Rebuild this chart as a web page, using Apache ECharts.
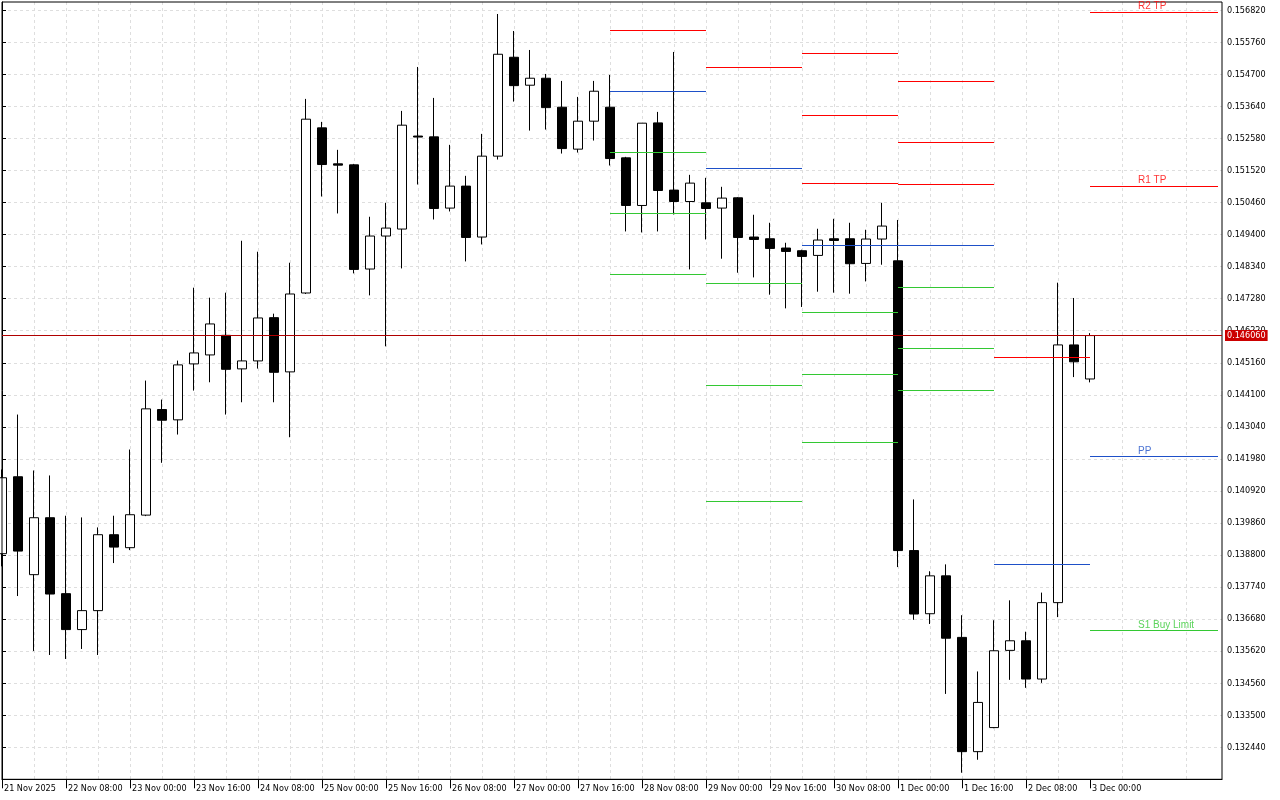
<!DOCTYPE html>
<html>
<head>
<meta charset="utf-8">
<script src="https://cdn.jsdelivr.net/npm/echarts@6/dist/echarts.min.js"></script>
<style>
html,body{margin:0;padding:0;background:#ffffff;}
#chart{width:1280px;height:800px;}
</style>
</head>
<body>
<div id="chart"></div>
<script>
// ---- Data (4H candles, index 0 = 21 Nov 2025 16:00) ----
const xTickLabels = ['21 Nov 2025','22 Nov 08:00','23 Nov 00:00','23 Nov 16:00','24 Nov 08:00','25 Nov 00:00','25 Nov 16:00','26 Nov 08:00','27 Nov 00:00','27 Nov 16:00','28 Nov 08:00','29 Nov 00:00','29 Nov 16:00','30 Nov 08:00','1 Dec 00:00','1 Dec 16:00','2 Dec 08:00','3 Dec 00:00'];

const opens = [0.138844,0.141389,0.138150,0.140034,0.137522,0.136333,0.136960,0.139472,0.139043,0.140120,
0.143613,0.143272,0.145123,0.145420,0.146068,0.144958,0.145222,0.146653,0.144859,0.147469,
0.152932,0.151742,0.151709,0.148262,0.149353,0.149584,0.152661,0.152634,0.150278,0.151005,
0.149320,0.151996,0.155268,0.154343,0.154574,0.153616,0.152228,0.153153,0.153616,0.151940,
0.150364,0.153097,0.150873,0.150496,0.150453,0.150278,0.150618,0.149320,0.149263,0.148956,
0.148867,0.148712,0.149263,0.149263,0.148447,0.149254,0.148533,0.138947,0.136858,0.138111,
0.136075,0.132295,0.133091,0.135645,0.135963,0.134697,0.137225,0.145751,0.144624];

const highs = [0.141630,0.143447,0.141597,0.141432,0.140100,0.140044,0.139713,0.140100,0.142291,0.144571,
0.143943,0.145232,0.147644,0.147314,0.147479,0.149197,0.148834,0.146785,0.148470,0.153890,
0.153130,0.152205,0.151740,0.149991,0.150453,0.153493,0.154947,0.153923,0.152370,0.151345,
0.152733,0.156699,0.156137,0.155509,0.154716,0.154485,0.153956,0.154485,0.154683,0.151973,
0.153087,0.153460,0.155443,0.151378,0.151279,0.150982,0.150640,0.150057,0.149792,0.149131,
0.148900,0.149594,0.149924,0.149792,0.149561,0.150453,0.149885,0.140639,0.138263,0.138491,
0.136809,0.134948,0.136643,0.137301,0.136263,0.137556,0.147810,0.147304,0.146141];

const lows = [0.138425,0.137443,0.135626,0.135493,0.135361,0.135692,0.135493,0.138534,0.138963,0.140087,
0.141851,0.142786,0.144240,0.144515,0.143447,0.143854,0.144968,0.143854,0.142697,0.147436,
0.150661,0.150100,0.148117,0.147390,0.145704,0.148282,0.151058,0.149901,0.150166,0.148513,
0.149075,0.151884,0.153801,0.152842,0.152875,0.152082,0.152115,0.152512,0.151686,0.149505,
0.149472,0.149505,0.150067,0.148249,0.149240,0.148603,0.148140,0.147985,0.147413,0.146960,
0.147007,0.147512,0.147479,0.147446,0.147852,0.148404,0.138401,0.136657,0.136518,0.134205,
0.131597,0.132027,0.133070,0.134670,0.134406,0.134571,0.136746,0.144687,0.144512];

const closes = [0.141356,0.138930,0.140034,0.137509,0.136333,0.136960,0.139472,0.139062,0.140133,0.143636,
0.143259,0.145090,0.145486,0.146445,0.144944,0.145222,0.146643,0.144845,0.147436,0.153219,
0.151719,0.151699,0.148249,0.149353,0.149617,0.153021,0.152628,0.150265,0.151005,0.149306,
0.151996,0.155367,0.154329,0.154574,0.153602,0.152247,0.153153,0.154144,0.151917,0.150364,
0.153087,0.150860,0.150496,0.151104,0.150265,0.150608,0.149306,0.149240,0.148943,0.148844,
0.148679,0.149220,0.149207,0.148437,0.149254,0.149683,0.138947,0.136848,0.138111,0.136048,
0.132295,0.133923,0.135632,0.135963,0.134697,0.137225,0.145751,0.145192,0.146060];

// Daily pivot levels (day start / end candle index)
const dayStart = [38, 44, 50, 56, 62, 68];
const dayEnd   = [44, 50, 56, 62, 68, 76];
const resistanceLevels = [
  [0.156160],
  [0.154937],
  [0.155400, 0.153351, 0.151104],
  [0.154475, 0.152459, 0.151071],
  [0.145321],
  [0.156755, 0.151005]
];
const pivotLevels = [0.154144, 0.151600, 0.149055, 0.149055, 0.138481, 0.142050];
const supportLevels = [
  [0.152129, 0.150113, 0.148097],
  [0.147767, 0.144396, 0.140563],
  [0.146808, 0.144759, 0.142512],
  [0.147667, 0.145619, 0.144231],
  [],
  [0.136290]
];
const levelLabelText  = ['R2 TP', 'R1 TP', 'PP', 'S1 Buy Limit'];
const levelLabelValue = [0.156755, 0.151005, 0.142050, 0.136290];
const levelLabelKind  = ['r', 'r', 'p', 's'];
const levelLabelIndex = 71;

// Axis ranges
const xMin = 0, xMax = 76.25, xStep = 4;
const yMin = 0.131380, yMax = 0.157096, yStep = 0.00106;

// ---- Styles ----
const kindColor = {r: '#ff0000', p: '#1e50c8', s: '#33c833', price: '#b00000'};
const axisFont = "'DejaVu Sans Condensed', 'DejaVu Sans', sans-serif";
const gridDash = {color: '#dedede', type: [3, 3], width: 1};

const candleData = opens.map((o, i) => [i, o, closes[i], lows[i], highs[i]]);
const lastClose = closes[closes.length - 1];

const tickIdx = xTickLabels.map((_, k) => k * 4);

// segments: [x0, x1, value, kind]
const segData = [];
dayStart.forEach((s, d) => {
  const e = dayEnd[d];
  resistanceLevels[d].forEach(v => segData.push([s, e, v, 'r']));
  segData.push([s, e, pivotLevels[d], 'p']);
  supportLevels[d].forEach(v => segData.push([s, e, v, 's']));
});
segData.push([xMin, xMax, lastClose, 'price']);

const series = [{
  type: 'candlestick',
  data: candleData,
  encode: {x: 0, y: [1, 2, 3, 4]},
  barWidth: 10,
  animation: false,
  silent: true,
  itemStyle: {color: '#ffffff', color0: '#000000', borderColor: '#000000', borderColor0: '#000000', borderWidth: 1}
}, {
  type: 'custom',
  silent: true, animation: false, z: 4,
  data: segData,
  encode: {x: [0, 1], y: 2},
  renderItem: function (params, api) {
    const item = segData[params.dataIndex];
    const p0 = api.coord([item[0], item[2]]);
    const p1 = api.coord([item[1], item[2]]);
    const y = Math.round(p0[1] - 0.5) + 0.5;
    const line = {
      type: 'line',
      shape: {x1: Math.round(p0[0]), y1: y, x2: Math.round(p1[0]), y2: y},
      style: {stroke: kindColor[item[3]], lineWidth: 1}
    };
    if (item[3] !== 'price') return line;
    return {
      type: 'group',
      children: [line, {
        type: 'text',
        x: Math.round(p1[0]) + 3, y: y,
        style: {
          text: item[2].toFixed(6), fill: '#ffffff', backgroundColor: '#cc0000',
          padding: [1, 2, 1, 2], fontSize: 9, fontFamily: axisFont,
          align: 'left', verticalAlign: 'middle'
        }
      }]
    };
  }
}, {
  type: 'scatter', symbolSize: 0, silent: true, animation: false, z: 5,
  data: levelLabelText.map((t, i) => ({
    value: [levelLabelIndex, levelLabelValue[i]],
    label: {
      show: true, formatter: t, color: kindColor[levelLabelKind[i]],
      position: [0, 0], align: 'left', verticalAlign: 'bottom', offset: [0, -1],
      fontSize: 10, fontFamily: "'Liberation Sans', Arial, sans-serif"
    }
  }))
}];

const chart = echarts.init(document.getElementById('chart'), null, {renderer: 'canvas'});
chart.setOption({
  backgroundColor: '#ffffff',
  animation: false,
  grid: {left: 2, right: 58, top: 2, bottom: 20.7, show: true, borderColor: '#000000', borderWidth: 1, backgroundColor: 'transparent', z: 3},
  xAxis: {
    type: 'value', min: xMin, max: xMax, interval: xStep,
    axisLine: {show: true, onZero: false, lineStyle: {color: '#000000', width: 1}},
    axisTick: {show: true, length: 9, customValues: tickIdx, lineStyle: {color: '#000000'}},
    minorTick: {show: false, splitNumber: 2},
    splitLine: {show: true, showMinLine: false, showMaxLine: false, lineStyle: gridDash},
    minorSplitLine: {show: true, lineStyle: gridDash},
    axisLabel: {
      show: true, margin: 5, align: 'left', padding: [0, 0, 0, 2],
      customValues: tickIdx,
      color: '#000000', fontSize: 9, fontFamily: axisFont,
      formatter: function (v) {
        const k = Math.round(v / 4);
        return k >= 0 && k < xTickLabels.length ? xTickLabels[k] : '';
      }
    }
  },
  yAxis: {
    type: 'value', position: 'right', min: yMin, max: yMax, interval: yStep, scale: true,
    axisLine: {show: true, lineStyle: {color: '#000000', width: 1}},
    axisTick: {show: true, length: 4, lineStyle: {color: '#000000'}},
    splitLine: {show: true, showMinLine: false, showMaxLine: false, lineStyle: gridDash},
    axisLabel: {
      show: true, margin: 5, color: '#000000', fontSize: 9, fontFamily: axisFont,
      showMinLabel: false, showMaxLabel: false,
      formatter: function (v) { return v.toFixed(6); }
    }
  },
  series: series
});
</script>
</body>
</html>
